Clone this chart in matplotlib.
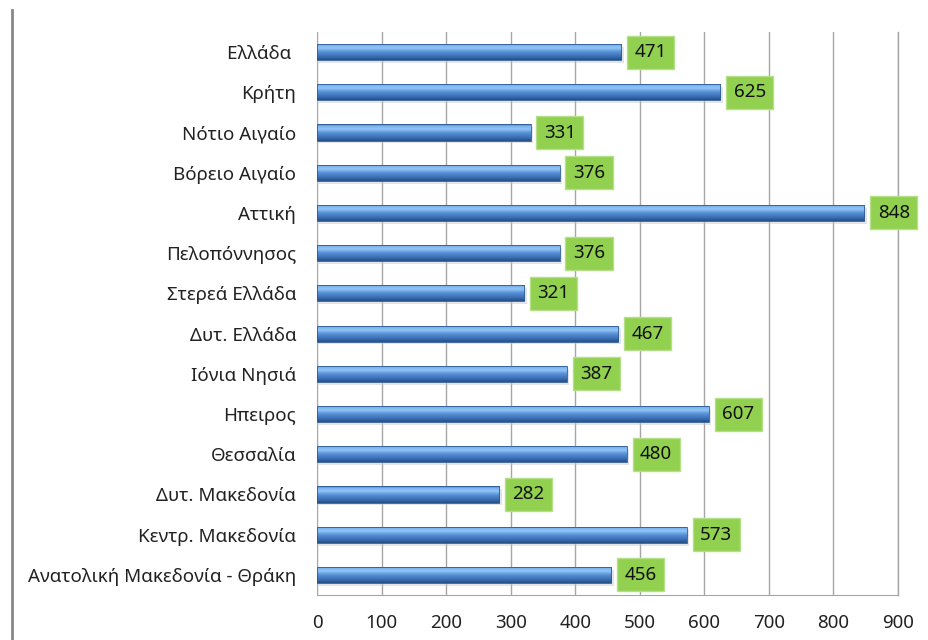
import numpy as np
import matplotlib.pyplot as plt
from matplotlib.lines import Line2D
from matplotlib.colors import LinearSegmentedColormap

plt.rcParams['font.family'] = ['Noto Sans', 'DejaVu Sans']

regions = ['Ελλάδα ', 'Κρήτη', 'Νότιο Αιγαίο', 'Βόρειο Αιγαίο', 'Αττική',
           'Πελοπόννησος', 'Στερεά Ελλάδα', 'Δυτ. Ελλάδα', 'Ιόνια Νησιά',
           'Ηπειρος', 'Θεσσαλία', 'Δυτ. Μακεδονία', 'Κεντρ. Μακεδονία',
           'Ανατολική Μακεδονία - Θράκη']
values = [471, 625, 331, 376, 848, 376, 321, 467, 387, 607, 480, 282, 573, 456]
xticks = [0, 100, 200, 300, 400, 500, 600, 700, 800, 900]

fig = plt.figure(figsize=(9.29, 6.4), dpi=100)
ax = fig.add_axes([317/929, 1-595/640, (898-317)/929, (595-32)/640])

ypos = np.arange(len(regions))
h = 0.4

# cylinder look: vertical gradient, dark at bottom
cmap = LinearSegmentedColormap.from_list('cyl', [
    (0.0, '#3f74b8'), (0.12, '#7db4ee'), (0.3, '#8fc4f6'), (0.5, '#5a93d8'),
    (0.8, '#3a6eb3'), (1.0, '#244f8a')])
grad = np.linspace(0, 1, 64).reshape(-1, 1)

for y, v in zip(ypos, values):
    # soft shadow
    ax.barh(y + 0.07, v + 4, height=h, left=0, color='#c4c4c4', alpha=0.45, zorder=2)
    bar = ax.barh(y, v, height=h, color='none', edgecolor='#2d5a96', lw=0.6, zorder=4)[0]
    im = ax.imshow(grad, cmap=cmap, aspect='auto', zorder=3,
                   extent=(0, v, y + h/2, y - h/2))
    im.set_clip_path(bar)
    ax.annotate(str(v), (v, y), xytext=(9.5, 0), textcoords='offset points',
                ha='left', va='center', fontsize=13.5, color='#111111', zorder=5,
                bbox=dict(boxstyle='square,pad=0.4', fc='#92d050', ec='#b5df88', lw=1))

ax.set_xlim(0, 900)
ax.set_ylim(len(regions) - 0.5, -0.5)
ax.set_xticks(xticks)
ax.set_yticks(ypos)
ax.set_yticklabels(regions, fontsize=13.5, color='#222222')
ax.tick_params(axis='x', labelsize=13.5, colors='#222222', length=0, pad=14)
ax.tick_params(axis='y', length=0, pad=15)
ax.xaxis.grid(True, color='#a6a6a6', lw=1)
ax.axvline(900, color='#a6a6a6', lw=1, clip_on=False, zorder=0)
ax.set_axisbelow(True)
for s in ['top', 'right', 'left']:
    ax.spines[s].set_visible(False)
ax.spines['bottom'].set_color('#a6a6a6')

fig.add_artist(Line2D([12.5/929, 12.5/929], [0, 1-10/640], color='#888888', lw=2))

fig.savefig('out.png', dpi=100)
